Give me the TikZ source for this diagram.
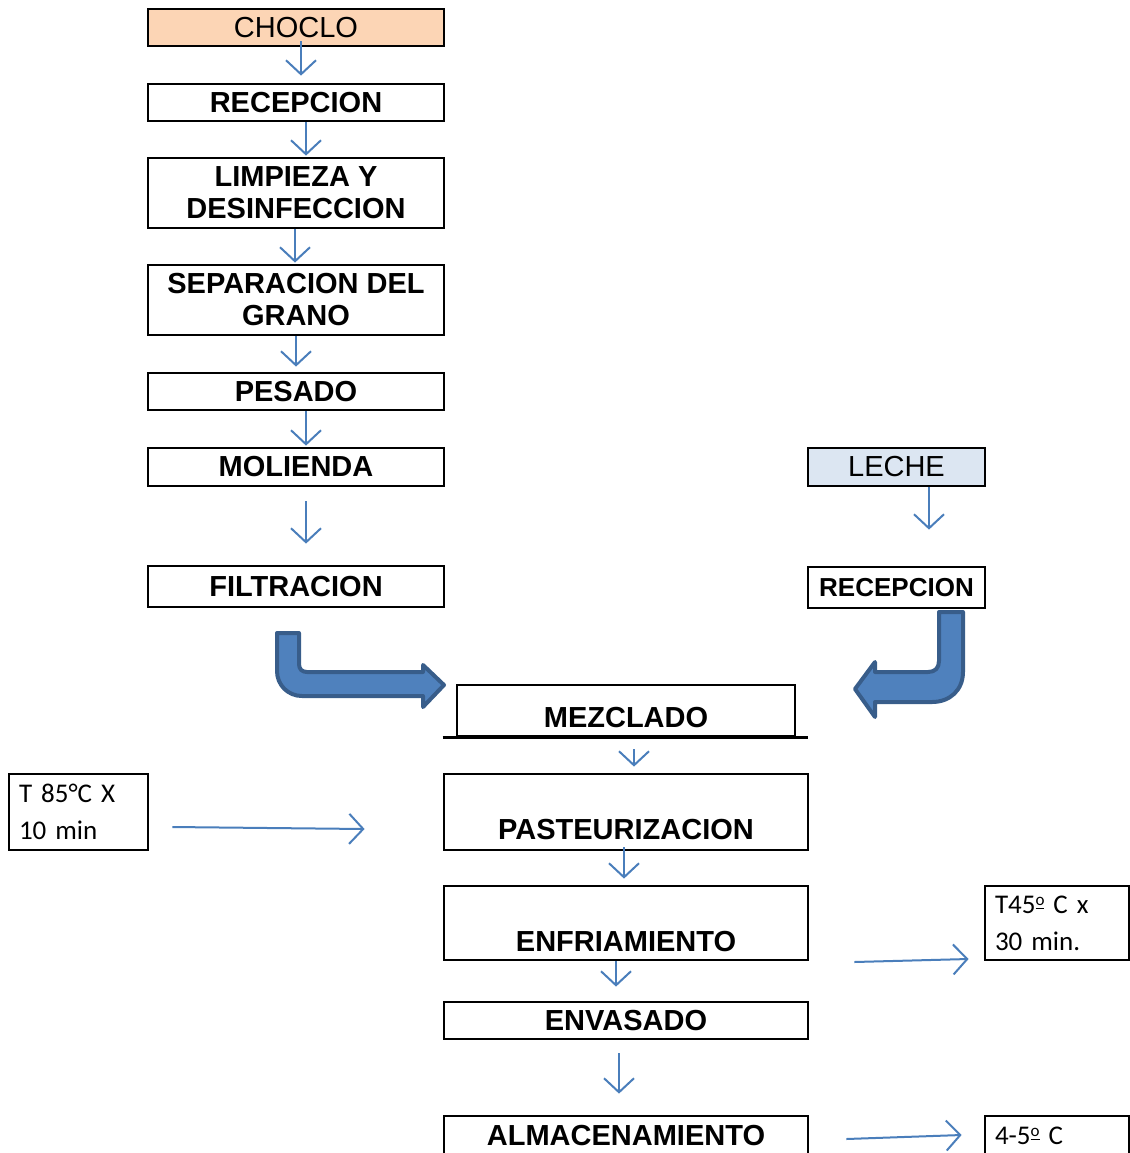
\documentclass[tikz,border=0pt]{standalone}
\usepackage{fontspec}
\setmainfont{Liberation Sans}
\newfontfamily\notefont{Carlito}
\usetikzlibrary{positioning, arrows.meta, calc}

\definecolor{flowblue}{HTML}{4A7EBB}
\definecolor{bigfill}{HTML}{4F81BD}
\definecolor{bigline}{HTML}{385D8A}
\definecolor{choclofill}{HTML}{FCD5B5}
\definecolor{lechefill}{HTML}{DCE6F2}

% masculine ordinal as Calibri prints it (small o over a bar)
\newcommand{\ordo}{\raisebox{0.3em}{\fontsize{8.5}{8.5}\selectfont\underline{o}}}

\tikzset{
  stepbox/.style={draw, line width=1.4pt, inner sep=0pt, align=center,
    font=\bfseries\fontsize{14.5}{16}\selectfont},
  rawbox/.style={stepbox, font=\fontsize{14.5}{16}\selectfont},
  notebox/.style={draw, line width=1.4pt, inner xsep=5pt, inner ysep=0pt, align=left,
    font=\notefont\fontsize{13.5}{18.5}\selectfont},
  flow/.style={draw=flowblue, line width=1pt, -{Straight Barb[length=7pt,width=15pt]}},
  bigarrow/.style={fill=bigfill, draw=bigline, line width=2pt, line join=round}
}

\begin{document}
\begin{tikzpicture}[x=0.5pt, y=-0.5pt]
\useasboundingbox (0,0) rectangle (1130,1153);
\clip (0,0) rectangle (1130,1153);

% Nodes, left column (choclo)
\node[rawbox, fill=choclofill, minimum width=148pt, minimum height=18.5pt] (choclo) at (296,27.5) {CHOCLO};
\node[stepbox, minimum width=148pt, minimum height=18.5pt] (recep) at (296,102.5) {RECEPCION};
\node[stepbox, minimum width=148pt, minimum height=35pt] (limpieza) at (296,193) {LIMPIEZA Y\\DESINFECCION};
\node[stepbox, minimum width=148pt, minimum height=35pt] (separacion) at (296,300) {SEPARACION DEL\\GRANO};
\node[stepbox, minimum width=148pt, minimum height=18.5pt] (pesado) at (296,391.5) {PESADO};
\node[stepbox, minimum width=148pt, minimum height=19pt] (molienda) at (296,467) {MOLIENDA};
\node[stepbox, minimum width=148pt, minimum height=20.5pt] (filtracion) at (296,586.5) {FILTRACION};

% Nodes, right column (leche)
\node[rawbox, fill=lechefill, minimum width=88.5pt, minimum height=19pt] (leche) at (896.5,467) {LECHE};
\node[stepbox, minimum width=88.5pt, minimum height=20.5pt, font=\bfseries\fontsize{13}{15}\selectfont] (receptwo) at (896.5,587.5) {RECEPCION};

% Nodes, process
\node[stepbox, minimum width=169pt, text height=21pt, text depth=4.5pt] (mezclado) at (626,710.5) {MEZCLADO};
\node[stepbox, minimum width=182pt, text height=32.5pt, text depth=5.5pt] (pasteur) at (626,812) {PASTEURIZACION};
\node[stepbox, minimum width=182pt, text height=32.5pt, text depth=4.5pt] (enfria) at (626,923) {ENFRIAMIENTO};
\node[stepbox, minimum width=182pt, minimum height=18.5pt] (envasado) at (626,1020.5) {ENVASADO};
\node[stepbox, minimum width=182pt, minimum height=20pt] (almacen) at (626,1136) {ALMACENAMIENTO};

% Notes
\node[notebox, text width=59.5pt, minimum height=38pt] (notepast) at (78.5,812) {T 85°C X\\10 min};
\node[notebox, text width=62pt, minimum height=37pt] (noteenfr) at (1057,923) {T45\ordo{} C x\\30 min.};
\node[notebox, text width=62pt, minimum height=20pt] (notealm) at (1057,1136) {4-5\ordo{} C};

\draw[line width=1.4pt] ([xshift=-6.5pt]mezclado.south west) -- ([xshift=6pt]mezclado.south east);

% Arrows
\foreach \a/\b/\dx/\s/\e in {choclo/recep/2.5/-3/3.5, recep/limpieza/5/0/0.5,
  limpieza/separacion/-0.5/0/0.5, separacion/pesado/0/0/2.5, pesado/molienda/5/0/0.5,
  molienda/filtracion/5/7/10.5, leche/receptwo/16.25/0/18,
  mezclado/pasteur/4/6/3, pasteur/enfria/-1/-2/3, enfria/envasado/-5/0/7,
  envasado/almacen/-3.5/6.5/10.5}
  \draw[flow, shorten <=\s pt, shorten >=\e pt] ([xshift=\dx pt]\a.south) -- ([xshift=\dx pt]\b.north);

\draw[flow] ([xshift=11.5pt,yshift=-7.5pt]notepast.east) -- ([xshift=-39pt,yshift=-8.5pt]pasteur.west);
\draw[flow] ([xshift=22.5pt,yshift=-19.5pt]enfria.east) -- ([xshift=-7.5pt,yshift=-18pt]noteenfr.west);
\draw[flow] ([xshift=18.5pt,yshift=-1.5pt]almacen.east) -- ([xshift=-11pt,yshift=0.5pt]notealm.west);

% Big bent arrows
\draw[bigarrow] (277,633) -- (299,633) -- (299,664) .. controls (299,669) and (302,672) .. (307,672)
  -- (423,672) -- (423,665) -- (444,685) -- (423,707) -- (423,696) -- (302,696)
  .. controls (288,696) and (277,685) .. (277,671) -- cycle;
\draw[bigarrow] (939,612) -- (963,612) -- (963,672) .. controls (963,690) and (950,702) .. (932,702)
  -- (875,702) -- (875,717) -- (855,689) -- (875,662) -- (875,672) -- (928,672)
  .. controls (935,672) and (939,668) .. (939,661) -- cycle;
\end{tikzpicture}
\end{document}
